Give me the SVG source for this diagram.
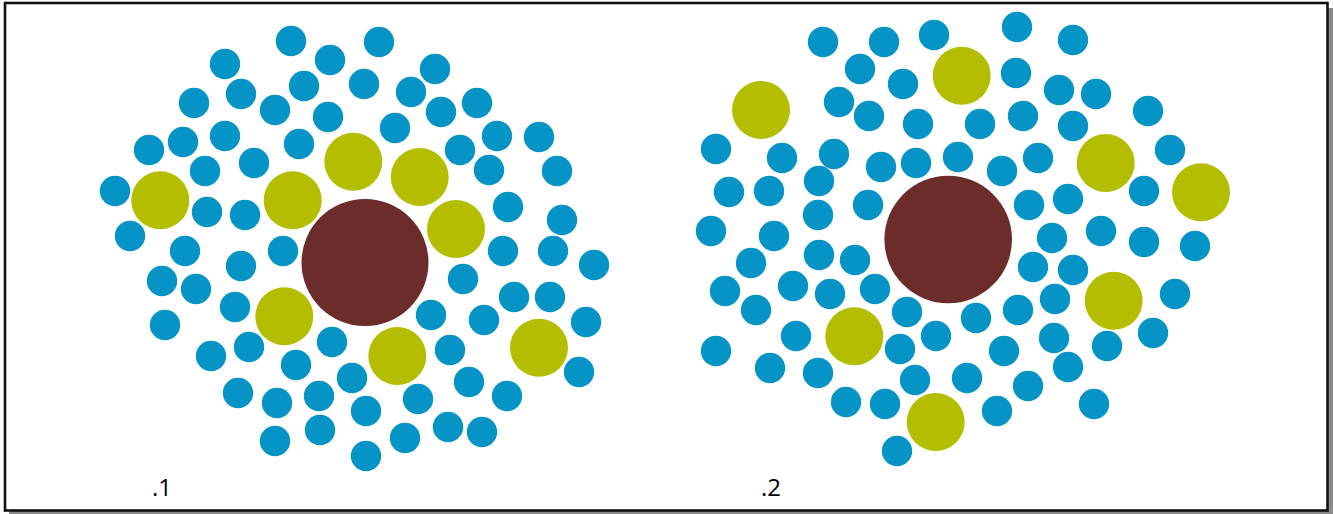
<svg xmlns="http://www.w3.org/2000/svg" width="1333" height="514" viewBox="0 0 1333 514">
<style>
.b{fill:#0693c5}
.g{fill:#b3be00}
.c{fill:#6c2c2c}
.lbl{font-family:"Open Sans","Liberation Sans",sans-serif;font-size:24px;fill:#000}
</style>
<defs>
<circle id="bc" r="15.2"/>
</defs>
<rect x="9" y="8" width="1324" height="506" fill="#8a8a8a"/>
<rect x="5" y="3" width="1322.5" height="507.5" fill="#fff" stroke="#111" stroke-width="2.6"/>
<g id="panel1">
<g id="blue1" class="b">
<circle cx="291" cy="41" r="15.2"/><circle cx="330" cy="60" r="15.2"/><circle cx="379" cy="42" r="15.2"/><circle cx="225" cy="64" r="15.2"/>
<circle cx="304" cy="86" r="15.2"/><circle cx="364" cy="84" r="15.2"/><circle cx="194" cy="103" r="15.2"/><circle cx="241" cy="94" r="15.2"/>
<circle cx="275" cy="110" r="15.2"/><circle cx="328" cy="117" r="15.2"/><circle cx="149" cy="150" r="15.2"/><circle cx="183" cy="142" r="15.2"/>
<circle cx="225" cy="136" r="15.2"/><circle cx="299" cy="144" r="15.2"/><circle cx="205" cy="171" r="15.2"/><circle cx="254" cy="163" r="15.2"/>
<circle cx="115" cy="191" r="15.2"/><circle cx="207" cy="212" r="15.2"/><circle cx="245" cy="215" r="15.2"/><circle cx="130" cy="236" r="15.2"/>
<circle cx="185" cy="251" r="15.2"/><circle cx="283" cy="251" r="15.2"/><circle cx="241" cy="266" r="15.2"/><circle cx="435" cy="69" r="15.2"/>
<circle cx="411" cy="92" r="15.2"/><circle cx="441" cy="112" r="15.2"/><circle cx="477" cy="103" r="15.2"/><circle cx="395" cy="128" r="15.2"/>
<circle cx="497" cy="136" r="15.2"/><circle cx="539" cy="137" r="15.2"/><circle cx="460" cy="150" r="15.2"/><circle cx="489" cy="170" r="15.2"/>
<circle cx="557" cy="171" r="15.2"/><circle cx="508" cy="207" r="15.2"/><circle cx="562" cy="220" r="15.2"/><circle cx="503" cy="251" r="15.2"/>
<circle cx="553" cy="251" r="15.2"/><circle cx="594" cy="265" r="15.2"/><circle cx="162" cy="281" r="15.2"/><circle cx="196" cy="289" r="15.2"/>
<circle cx="235" cy="307" r="15.2"/><circle cx="165" cy="325" r="15.2"/><circle cx="211" cy="356" r="15.2"/><circle cx="249" cy="347" r="15.2"/>
<circle cx="332" cy="342" r="15.2"/><circle cx="296" cy="365" r="15.2"/><circle cx="352" cy="378" r="15.2"/><circle cx="238" cy="393" r="15.2"/>
<circle cx="277" cy="403" r="15.2"/><circle cx="319" cy="396" r="15.2"/><circle cx="366" cy="411" r="15.2"/><circle cx="275" cy="441" r="15.2"/>
<circle cx="320" cy="430" r="15.2"/><circle cx="366" cy="456" r="15.2"/><circle cx="463" cy="279" r="15.2"/><circle cx="514" cy="297" r="15.2"/>
<circle cx="550" cy="297" r="15.2"/><circle cx="431" cy="315" r="15.2"/><circle cx="484" cy="320" r="15.2"/><circle cx="586" cy="322" r="15.2"/>
<circle cx="450" cy="350" r="15.2"/><circle cx="579" cy="372" r="15.2"/><circle cx="469" cy="382" r="15.2"/><circle cx="418" cy="399" r="15.2"/>
<circle cx="507" cy="396" r="15.2"/><circle cx="448" cy="427" r="15.2"/><circle cx="482" cy="432" r="15.2"/><circle cx="405" cy="438" r="15.2"/>
</g>
<g id="green1" class="g">
<circle cx="160.3" cy="200.3" r="29"/><circle cx="292.7" cy="200.3" r="29"/><circle cx="353.3" cy="161.7" r="29"/><circle cx="419.7" cy="177" r="29"/>
<circle cx="456" cy="229" r="29"/><circle cx="284.3" cy="316.3" r="29"/><circle cx="397.3" cy="356" r="29"/><circle cx="539" cy="347.7" r="29"/>
</g>
<circle id="core1" class="c" cx="365" cy="262.5" r="63.5"/>
<text id="label1" class="lbl" x="152" y="496">.1</text>
</g>
<g id="panel2">
<g id="blue2" class="b">
<circle cx="823" cy="42" r="15.2"/><circle cx="884" cy="42" r="15.2"/><circle cx="934" cy="35" r="15.2"/><circle cx="860" cy="69" r="15.2"/>
<circle cx="903" cy="84" r="15.2"/><circle cx="839" cy="102" r="15.2"/><circle cx="869" cy="116" r="15.2"/><circle cx="918" cy="124" r="15.2"/>
<circle cx="716" cy="149" r="15.2"/><circle cx="782" cy="158" r="15.2"/><circle cx="834" cy="154" r="15.2"/><circle cx="881" cy="167" r="15.2"/>
<circle cx="916" cy="163" r="15.2"/><circle cx="958" cy="157" r="15.2"/><circle cx="729" cy="192" r="15.2"/><circle cx="769" cy="191" r="15.2"/>
<circle cx="819" cy="181" r="15.2"/><circle cx="868" cy="205" r="15.2"/><circle cx="818" cy="215" r="15.2"/><circle cx="711" cy="231" r="15.2"/>
<circle cx="774" cy="236" r="15.2"/><circle cx="751" cy="263" r="15.2"/><circle cx="819" cy="255" r="15.2"/><circle cx="855" cy="260" r="15.2"/>
<circle cx="1017" cy="27" r="15.2"/><circle cx="1073" cy="40" r="15.2"/><circle cx="1016" cy="73" r="15.2"/><circle cx="1059" cy="90" r="15.2"/>
<circle cx="1096" cy="94" r="15.2"/><circle cx="1148" cy="111" r="15.2"/><circle cx="980" cy="124" r="15.2"/><circle cx="1023" cy="116" r="15.2"/>
<circle cx="1073" cy="126" r="15.2"/><circle cx="1170" cy="150" r="15.2"/><circle cx="1002" cy="171" r="15.2"/><circle cx="1038" cy="158" r="15.2"/>
<circle cx="1144" cy="191" r="15.2"/><circle cx="1029" cy="205" r="15.2"/><circle cx="1068" cy="199" r="15.2"/><circle cx="1052" cy="238" r="15.2"/>
<circle cx="1101" cy="231" r="15.2"/><circle cx="1144" cy="242" r="15.2"/><circle cx="1195" cy="246" r="15.2"/><circle cx="725" cy="291" r="15.2"/>
<circle cx="793" cy="286" r="15.2"/><circle cx="830" cy="294" r="15.2"/><circle cx="875" cy="289" r="15.2"/><circle cx="756" cy="310" r="15.2"/>
<circle cx="907" cy="312" r="15.2"/><circle cx="796" cy="336" r="15.2"/><circle cx="936" cy="336" r="15.2"/><circle cx="716" cy="351" r="15.2"/>
<circle cx="900" cy="349" r="15.2"/><circle cx="770" cy="368" r="15.2"/><circle cx="818" cy="373" r="15.2"/><circle cx="915" cy="380" r="15.2"/>
<circle cx="967" cy="378" r="15.2"/><circle cx="846" cy="402" r="15.2"/><circle cx="885" cy="404" r="15.2"/><circle cx="897" cy="451" r="15.2"/>
<circle cx="1033" cy="267" r="15.2"/><circle cx="1073" cy="270" r="15.2"/><circle cx="1175" cy="294" r="15.2"/><circle cx="1055" cy="299" r="15.2"/>
<circle cx="976" cy="318" r="15.2"/><circle cx="1018" cy="310" r="15.2"/><circle cx="1153" cy="333" r="15.2"/><circle cx="1054" cy="338" r="15.2"/>
<circle cx="1004" cy="351" r="15.2"/><circle cx="1107" cy="346" r="15.2"/><circle cx="1068" cy="367" r="15.2"/><circle cx="1028" cy="386" r="15.2"/>
<circle cx="997" cy="411" r="15.2"/><circle cx="1094" cy="404" r="15.2"/>
</g>
<g id="green2" class="g">
<circle cx="961.7" cy="75.7" r="29"/><circle cx="761" cy="110" r="29"/><circle cx="1105.7" cy="163" r="29"/><circle cx="1201" cy="192.3" r="29"/>
<circle cx="854.3" cy="336.3" r="29"/><circle cx="1113.7" cy="300.7" r="29"/><circle cx="935.7" cy="422" r="29"/>
</g>
<circle id="core2" class="c" cx="948.2" cy="239.5" r="63.8"/>
<text id="label2" class="lbl" x="761" y="496">.2</text>
</g>
</svg>
